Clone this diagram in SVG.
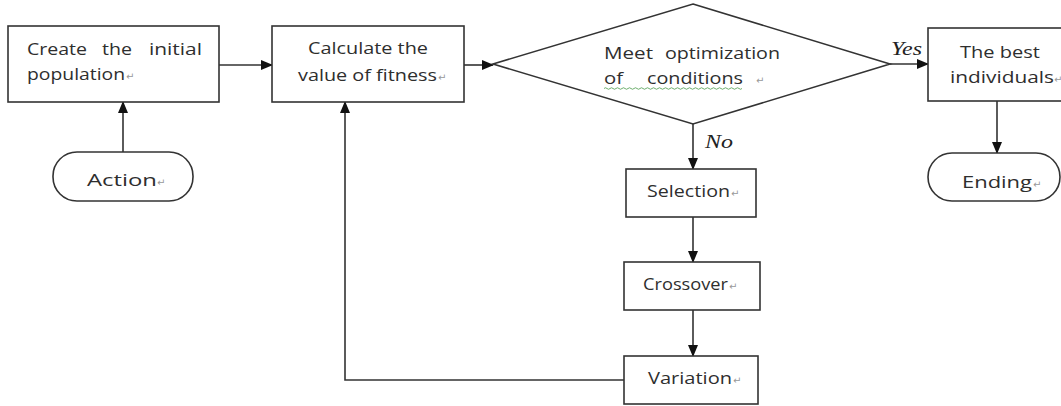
<svg xmlns="http://www.w3.org/2000/svg" width="1061" height="406" viewBox="0 0 1061 406">
<style>
.box{fill:#fff;stroke:#333;stroke-width:1.6}
.ln{fill:none;stroke:#333;stroke-width:1.6}
.t{font-family:"Open Sans","Noto Sans",sans-serif;font-size:17px;fill:#2e2e2e}
.pm{font-family:"DejaVu Sans",sans-serif;font-size:10px;fill:#999}
.lab{font-family:"Liberation Serif",serif;font-style:italic;font-size:18px;fill:#222}
</style>
<defs>
<marker id="ah" markerWidth="12" markerHeight="10" refX="11" refY="5" orient="auto" markerUnits="userSpaceOnUse">
<path d="M0,0 L12,5 L0,10 Z" fill="#111"/>
</marker>
</defs>
<rect width="1061" height="406" fill="#fff"/>
<g id="connectors">
<line class="ln" x1="219" y1="65" x2="272" y2="65" marker-end="url(#ah)"/>
<line class="ln" x1="464" y1="65" x2="493" y2="65" marker-end="url(#ah)"/>
<line class="ln" x1="890" y1="64" x2="928" y2="64" marker-end="url(#ah)"/>
<line class="ln" x1="123" y1="152" x2="123" y2="102" marker-end="url(#ah)"/>
<line class="ln" x1="997" y1="101" x2="997" y2="153" marker-end="url(#ah)"/>
<line class="ln" x1="693" y1="124" x2="693" y2="169" marker-end="url(#ah)"/>
<line class="ln" x1="693" y1="217" x2="693" y2="262" marker-end="url(#ah)"/>
<line class="ln" x1="693" y1="310" x2="693" y2="356" marker-end="url(#ah)"/>
<polyline class="ln" points="624,380 345,380 345,102" marker-end="url(#ah)"/>
<text class="lab" x="891" y="55" textLength="31" lengthAdjust="spacingAndGlyphs">Yes</text>
<text class="lab" x="705" y="148" textLength="28" lengthAdjust="spacingAndGlyphs">No</text>
</g>
<g id="create">
<rect class="box" x="8" y="26" width="211" height="76"/>
<text class="t" x="27" y="55" textLength="60" lengthAdjust="spacingAndGlyphs">Create</text>
<text class="t" x="102" y="55" textLength="30" lengthAdjust="spacingAndGlyphs">the</text>
<text class="t" x="149" y="55" textLength="53" lengthAdjust="spacingAndGlyphs">initial</text>
<text class="t" x="27" y="80" textLength="98" lengthAdjust="spacingAndGlyphs">population</text>
<text class="pm" x="126" y="80">↵</text>
</g>
<g id="action">
<rect class="box" x="53" y="152" width="140" height="49" rx="24" ry="24"/>
<text class="t" x="87" y="186" textLength="70" lengthAdjust="spacingAndGlyphs">Action</text>
<text class="pm" x="157" y="186">↵</text>
</g>
<g id="fitness">
<rect class="box" x="272" y="26" width="192" height="76"/>
<text class="t" x="308" y="54" textLength="120" lengthAdjust="spacingAndGlyphs">Calculate the</text>
<text class="t" x="298" y="81" textLength="139" lengthAdjust="spacingAndGlyphs">value of fitness</text>
<text class="pm" x="438" y="81">↵</text>
</g>
<g id="decision">
<polygon class="box" points="693,4 890,64 693,124 493,64"/>
<text class="t" x="604" y="59" textLength="49" lengthAdjust="spacingAndGlyphs">Meet</text>
<text class="t" x="665" y="59" textLength="115" lengthAdjust="spacingAndGlyphs">optimization</text>
<text class="t" x="604" y="84" textLength="19" lengthAdjust="spacingAndGlyphs">of</text>
<text class="t" x="647" y="84" textLength="96" lengthAdjust="spacingAndGlyphs">conditions</text>
<text class="pm" x="756" y="84">↵</text>
<path d="M604,88.5 q1.5,-1.5 3,0 t3,0 t3,0 t3,0 t3,0 t3,0 t3,0 t3,0 t3,0 t3,0 t3,0 t3,0 t3,0 t3,0 t3,0 t3,0 t3,0 t3,0 t3,0 t3,0 t3,0 t3,0 t3,0 t3,0 t3,0 t3,0 t3,0 t3,0 t3,0 t3,0 t3,0 t3,0 t3,0 t3,0 t3,0 t3,0 t3,0 t3,0 t3,0 t3,0 t3,0 t3,0 t3,0 t3,0 t3,0 t3,0" fill="none" stroke="#4a9a4a" stroke-width="0.8"/>
</g>
<g id="best">
<rect class="box" x="928" y="28" width="136" height="73"/>
<text class="t" x="960" y="58" textLength="80" lengthAdjust="spacingAndGlyphs">The best</text>
<text class="t" x="950" y="83" textLength="104" lengthAdjust="spacingAndGlyphs">individuals</text>
<text class="pm" x="1054" y="83">↵</text>
</g>
<g id="ending">
<rect class="box" x="928" y="153" width="132" height="48" rx="24" ry="24"/>
<text class="t" x="962" y="188" textLength="70" lengthAdjust="spacingAndGlyphs">Ending</text>
<text class="pm" x="1033" y="188">↵</text>
</g>
<g id="selection">
<rect class="box" x="626" y="169" width="130" height="48"/>
<text class="t" x="647" y="197" textLength="83" lengthAdjust="spacingAndGlyphs">Selection</text>
<text class="pm" x="731" y="197">↵</text>
</g>
<g id="crossover">
<rect class="box" x="624" y="262" width="136" height="48"/>
<text class="t" x="643" y="290" textLength="85" lengthAdjust="spacingAndGlyphs">Crossover</text>
<text class="pm" x="729" y="290">↵</text>
</g>
<g id="variation">
<rect class="box" x="624" y="356" width="134" height="48"/>
<text class="t" x="648" y="384" textLength="84" lengthAdjust="spacingAndGlyphs">Variation</text>
<text class="pm" x="733" y="384">↵</text>
</g>
</svg>
